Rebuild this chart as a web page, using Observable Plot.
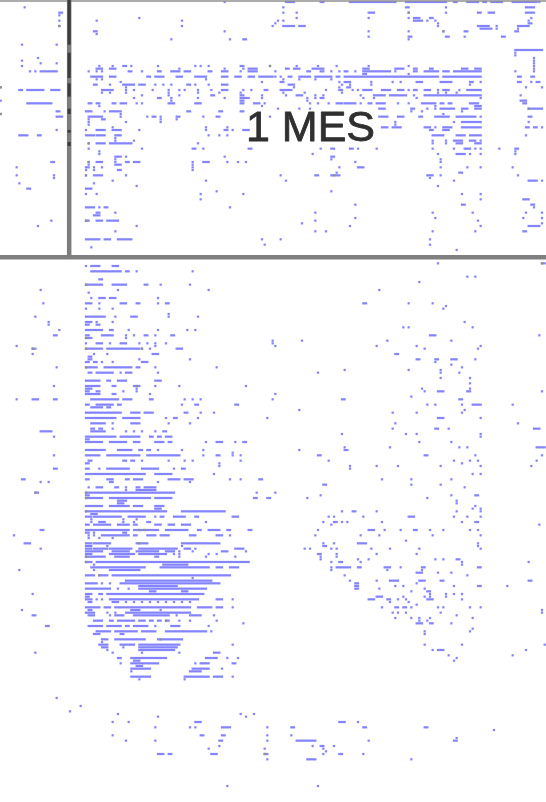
<!DOCTYPE html>
<html><head><meta charset="utf-8">
<script src="https://cdn.jsdelivr.net/npm/d3@7"></script>
<script src="https://cdn.jsdelivr.net/npm/@observablehq/plot@0.6"></script>
<style>html,body{margin:0;padding:0;background:#fff}svg{display:block}</style>
</head><body><div id="chart"></div>
<script>
// Each entry: "row: col col-col ..." on the raster grid of the plate.
const upperPanelRows = [
"0: 84 107-110 120-121 131-148 152-167 170-171 175-179 181-182 184-188 192-201 202",
"2: 9 106 152-153 167 197-200","4: 22-23 106 111 138-140 153 167 179-180 183-185 197-200","5: 22",
"6: 52 111 138 153 155-157 161-162 199","7: 22 36 68 104 106 155-158 160 163 198","8: 103 164 198-199","9: 22 68 102 106-110 112-114 164 179-183 186 194-198",
"10: 180-184 186 194","11: 35-36 84 138 153 166 174-175 193-194","12: 36","13: 138 153-154 167-168 174 188-189","14: 64 86 91-92 153",
"16: 8 21","18: 193-203","19: 193","20: 193","21: 14 200","22: 8 200","23: 15 21 200",
"24: 8 37 42 46-47 49 59 73 75 78 90-91 101 111 119 126 138 153 200",
"25: 36-38 41-43 67 84 91 93-96 107-108 110-112 117-121 136-138 148-151 155-156 161-162 173-175 178-180 200",
"26: 11 13 15-21 33 36 38 48-49 53 59-60 64-67 69-71 78-79 83-85 90 93-96 103 115-116 120-121 124 127 129-130 133 136-146 148 155-156 159-164 166-168 170-180 193 200",
"27: 136-137 153",
"28: 34-38 41-43 55-56 58-61 66-68 73-77 83-85 88-90 93-95 97-102 103 105 108-109 112-116 118-124 126-127 129-164 166-180 194-195 199-200",
"29: 36 38 77 106 112 118 124",
"30: 45 98 105-106 127 129-131 139 147 150 156-158 165-169 176-177 180 194-195 199 201-202",
"31: 35-36 41 46-50 52-54 58 61 64 70-71 73 78 83-85 108-110 128 131 139 176",
"32: 0 47 110 127 130-131 197 203",
"33: 7-8 10-16 19-22 38-42 47 50 57 63 67 69 74 79 83-85 91 94 99-100 105-109 122 127-128 132 134 136-139 143-146 149-151 153 155-156 159-161 164 166-168 172 175-180",
"34: 38 41 47 63 74 82 90 106 114 128 164 167 171",
"35: 53 63 67 79-80 90-91 98 107 111-113 118 121 135 140-144 146-152 155 159-180 195",
"36: 50 59-60 64 74 84 90-93 98 115 118 120-121 136 140 156 180","37: 0 64 90-91 115 195-197",
"38: 10-19 33-34 36-37 42-43 45-47 51 53 63-65 73-75 90-91 95-97 99 116 119 123 126-128 129-133 135 138-139 141-144 149 153 158-163 165-166 168-169 176-179 196-197",
"39: 37 98 163 178-180","40: 104 112 116 142-144 154-155 160 163 165-170 173-175 178-180 198-203",
"41: 21-22 32-34 39 41-45 70-71 82-83 90-91 158 154 173","42: 0 45 166",
"43: 21-23 33-38 45 55 57-58 60 66-67 76 81-82 101 142-145 149-151 157-158 163-168 171-178 180 198-199",
"44: 33 38-39 60 66","45: 33 47 60 148 170 173-180 198","46: 33 148",
"47: 42 77 85 143-145 147-150 159-161 163 166-169 173-180 197-198 200-201 203",
"48: 21 32 36-39 42-45 52 77 84-85 87 91-93 161-162 166-168",
"50: 7-10 14-15 32-35 36-39 43-45 78 82 85 162-166 171-174 176-180 197",
"51: 43","52: 43 50 162 167 170-173 176-178 180",
"53: 33 36-39 41-49 74 162 167 171-173 178-180",
"55: 33 53 72-73 76 93-94 120 124-125 131-132 134 141 162 170 174-176 178 180 187 193-194",
"56: 37 193","57: 37 117 164 171-174 176 180 193","58: 43-45 47 84 124-125","59: 43 124 165",
"60: 19-20 33 36-38 43 47-48 50-52 72 76-78 85 89 92 133 165","61: 33 43-45 72",
"62: 6 32-33 35 38 72 127 134-136 165 175 180 192","63: 32 35 44-45 72","64: 126 172-173",
"65: 6 20 32 35-38 47 105 118-119 124-127 160-162 165 194","66: 20 161",
"67: 42 77 107 170 198-201 203","68: 7 35","69: 51 164","70: 10-11 32-34","71: 81 124",
"72: 32 36 75 91 173 180","74: 75 180 196-198","76: 133 173-174 199-200",
"77: 32-35 37 39-40 86 200","79: 36-37 43 118 162 177 197 203","80: 35-37","81: 133 163 196 203",
"82: 19 32-33 36-38 40-44 118 179","83: 113 203","84: 14 51 131 180 198-202","86: 43 118 122 162 178 196-197",
"89: 32-37 39-41 44-49 98 105 161","91: 99 161","92: 34","93: 171"
];
const lowerPanelRows = [
"98: 164 203-204","99: 32 34-37 42-44","101: 34-45 47-48 51 72","103: 175 178","104: 37-38","105: 157",
"106: 32-38 42-47 54-55 60 71","108: 15 44 78 142","109: 33","111: 34 37-39 41-43 59",
"113: 16 32-34 37 45-47 51-52 59 62-63 136-137 153 162","114: 167","115: 32 37 42 166",
"117: 63","118: 13 32-39 43 49-51 63 74","120: 18 32-34 36 42 174","121: 18 32-33 36-37",
"122: 151 153 177","123: 22 32-38 41-42 48 59 70 73",
"125: 20-21 32-33 38-42 47 50 54-55 58 64-65 161-163 202","126: 32-34 47",
"127: 102 113 145 169","128: 32 36-38 41 45-47 52 55 58 62 102","129: 6 58 103 141 156 180",
"130: 12-13 32-38 40-52 53 56 66-68 159 179","132: 12 35 40 57-59 148-149","133: 33-34",
"134: 33-34 52 71 156-157 163-164 169-171 178","135: 32-33 35-36 38 42 53-55 163","136: 169",
"137: 21 32-36 39-49 51-52 58 81 173","138: 129 153 165","139: 33-34 36-42 45 47-49 59 119 165 172","141: 165 176",
"142: 32-37 40-41 44-47 58-60","143: 176","144: 20 32-37 42-43 50-52 58 67 92","145: 32-34 51 158 176",
"146: 32-33 36-37 46 51 159 164-166 175-176 203","147: 32-37 42-43 56 103","148: 154",
"149: 6 12-14 20-21 34-44 46-49 56-57 69 72 75 102 128-129 172-173",
"151: 32-33 36-42 44-45 68 73-74 88-89 160 163 173 177-180 192","152: 34-38 40-41","153: 112 174",
"154: 32-45 49-52 54-57 69-70 75 80 147 156 173",
"156: 32-43 46-52 62 65-66 74 100 164-166 180","158: 34-39 42 49-52 63 71 148 194","160: 34-35 37-38 42 147 163-164 168 200-202",
"161: 15-19 34-39 47 50 53 58 61-62","162: 128 152 156 180",
"163: 20 32-43 45-52 56-57 59-60 62-64 180","164: 32-33",
"165: 32-38 41-47 50-52 58-61 63-64 77 81-83 88 91-92 157 169","167: 129 146 172 175 201-204",
"168: 32-39 44-49 52-53 55-56 59 68 76 112 129-130","170: 20 32-37 40-52 55-67 76 81-82 87 90 119-120 159-160 178 203",
"169: 87","172: 33-34 46-47 49-50 53 63 69 72 90 123 170 176 179 201","173: 32-33 82 173","174: 82 131 141 149 165 180 199",
"175: 20-21 32-33 37 40-48 53-59 65 68-69 131","177: 32-54 58-64 80 177 180",
"179: 8-9 32-33 40-42 47-48 50-53 63-67 69-72 86 90 97-98 143 154 169","180: 15 18 41-42 59 71",
"181: 121-122 154 165","182: 33 36-38 43-44 47 51-52 54-58 174","183: 47 51-58","184: 13-14 32-65 96 103",
"185: 32-33 120 169 178-179","186: 32-38 41-56 58-64 95-96 100-101 115 160","187: 44-47 171","188: 44-46 171",
"189: 32-38 41-48 50-53 58-61 178","190: 58-60 177 180","191: 32-62 68-84 128 132-133 141 171 180",
"192: 34-36","193: 32-34 35-45 48-54 58 60-61 65-69 73-74 87-89 123 125 136 153-155 170 175 180",
"194: 34 46 51","195: 34 37-39 46 50 55-56 77 121 125-126 128 130 143 173 178-179","196: 32-33 35-41 44-48 50-51 58-60 63-65 68-71 124 202",
"198: 15-16 32-48 50-59 62-70 74-75 78-82 85-86 93-94 119 138-140 144 150 155-156 161 166 176 179",
"199: 32-33 35 46-47","200: 5 33 35 38-48 50-51 55-58 60-63 71-73 81-83 86 118 135 142 162 180","201: 33 37 42","202: 152",
"203: 9-11 32-34 35-41 51-55 68-82 121 125 134-137 179","204: 32-34 40 68 121-122 179",
"205: 15 32-34 35-40 41-49 52-66 69-71 73 88-91 114 116 124 126 139 146 157 180",
"206: 32-38 42-48 51-59 62-65 67 72 83-85 92","207: 32-34 41-50 52-62 65 67 78 81 119-120 126 141 156",
"208: 32-39 43-48 58-59 67 77 88 120 126","209: 120 134 138 163 166 171-172",
"210: 32-34 36-93 124 127-128 135 173 198","211: 35 61-70 173","212: 34-54 60-78 81-83 86-89 124 126-131 134-135 144-146 150 158-159 179-180",
"213: 7 35 41-52 124 145 158","214: 156-158 164 169","215: 32-35 37-40 42-86 129 175","216: 72",
"217: 47-79 131 141 146-149 157-159 165-166 198-199","218: 32-36 38 41 45-82 133-134 156",
"219: 52-66 133-134 148 151 170 179-180 190","220: 32-41 44 48 52-77 133-134 142 159","221: 56-58 68-70 154 160-161",
"222: 12 32-34 37-38 40-76 161 167 170 173","223: 32-33 141-143 151 159 161 167",
"224: 32-34 36 38 41-74 81-83 87 138-140 145-146 149 152 160-162 173","225: 33-34 42-44 47 50 53 56 59 62 65 68 71 146 153",
"226: 156","227: 32-37 39-41 43-71 74-79 81-83 87 143 148-149 151-152 154 164 166 176 180",
"228: 8 33-34 49-52 60 203","229: 32-35 40 43 47-71 147 149 152 165 203","230: 12-13 33-35 41 43-46 50-63 66 71-75 80 171",
"231: 148 154 157 161 177","232: 35-38 41-42 44-50 52-54 56-57 59-60 62-63 67 71 81 157 160",
"233: 91 156-158 161-162 169","234: 17-18 33-38 40-45 47-48 50-55 58 64-67 78","235: 177",
"236: 36-41 43-51 53-58 62-77 79 159 176","237: 35-37 45-46 159","239: 38-40 43-54 59-68","240: 38",
"241: 37-40 45-50 52-67 87 159 173 204","242: 38-40 46 52-66","243: 40 52-65 162 164-166 197","244: 13 42 53 67 80-82","245: 168 192",
"246: 44-45 49-62 77-81 85 89 171","247: 50-52 170","248: 45 49-59 73 75-78 87-88","249: 51-53",
"250: 49-56 72-78 83","251: 49 71-75","253: 49-56 69-78 80-83 87","254: 52 69",
"261: 21","264: 30","266: 26","267: 44 90 95","268: 59 92","270: 42 48 73-75 127-129 134",
"272: 58 71 73 83-86 100 109-110 136-137 159-160","273: 185","275: 42 75-76 83-84 100 109",
"277: 47 58 82-83 100 111-118 138 170-171","276: 171","279: 82 117 120-121 125","280: 78 99 121","281: 122",
"282: 59-61 63-64 79-81 99-100 121 127-128 136","284: 100 115-118 154","294: 85 119"
];
// Darker specks where the plate shows grey ink.
const greySpecks = [[9,22],[24,101],[32,0],[42,0],[53,33],[60,33],[65,32],[82,32],[106,32],[130,12],[130,32],[130,53],[126,32],[137,32],[144,51],[184,13],[184,32],[186,32],[191,32],[198,52],[198,54],[203,52],[208,32],[210,32],[215,37],[232,62],[239,60],[65,125],[4,153],[11,166],[282,99],[98,203],[40,198]];
const caption = "1 MES";
const vRuleCol = 25.5, hRuleRow = 95.5, topRuleRow = -0.55;
const darkStretches = [[-0.75,16],[19,28.5],[30.5,35.5],[40,42],[48,49],[52.5,54]];

const parseRows = rows => rows.flatMap(s => {
  const [r, rest] = s.split(":");
  return rest.trim().split(/\s+/).map(t => {
    const [a, b] = t.split("-").map(Number);
    return {row: +r, from: a, to: b === undefined ? a : b};
  });
});
const spans = parseRows(upperPanelRows).concat(parseRows(lowerPanelRows));
const half = 0.42;
const plot = Plot.plot({
  width: 546, height: 802,
  marginTop: 0, marginRight: 0, marginBottom: 0, marginLeft: 0,
  x: {domain: [-0.25, 204.5], axis: null},
  y: {domain: [-0.75, 300], range: [0, 802], axis: null},
  style: {background: "#fff", filter: "blur(0.6px)"},
  marks: [
    Plot.rect(spans, {
      x1: d => d.from - half, x2: d => d.to + half,
      y1: d => d.row - half, y2: d => d.row + half,
      fill: "#8484ff"
    }),
    Plot.rect(greySpecks, {
      x1: d => d[1] - half, x2: d => d[1] + half,
      y1: d => d[0] - half, y2: d => d[0] + half,
      fill: "#8f8f90"
    }),
    Plot.ruleY([hRuleRow], {stroke: "#808080", strokeWidth: 4.5}),
    Plot.ruleY([topRuleRow], {stroke: "#909090", strokeWidth: 1.5}),
    Plot.ruleX([vRuleCol], {y1: -0.75, y2: hRuleRow, stroke: "#7c7c7c", strokeWidth: 4.5}),
    Plot.ruleX(darkStretches, {x: () => vRuleCol, y1: d => d[0], y2: d => d[1], stroke: "#3a3a3a", strokeWidth: 3}),
    Plot.text([caption], {
      x: () => 116, y: () => 46.9, text: d => d,
      fontFamily: "Liberation Sans", fontSize: 43, fill: "#2f2f2f", stroke: "#2f2f2f", strokeWidth: 0.8,
      textAnchor: "middle", lineAnchor: "middle"
    })
  ]
});
document.getElementById("chart").appendChild(plot);
</script></body></html>
